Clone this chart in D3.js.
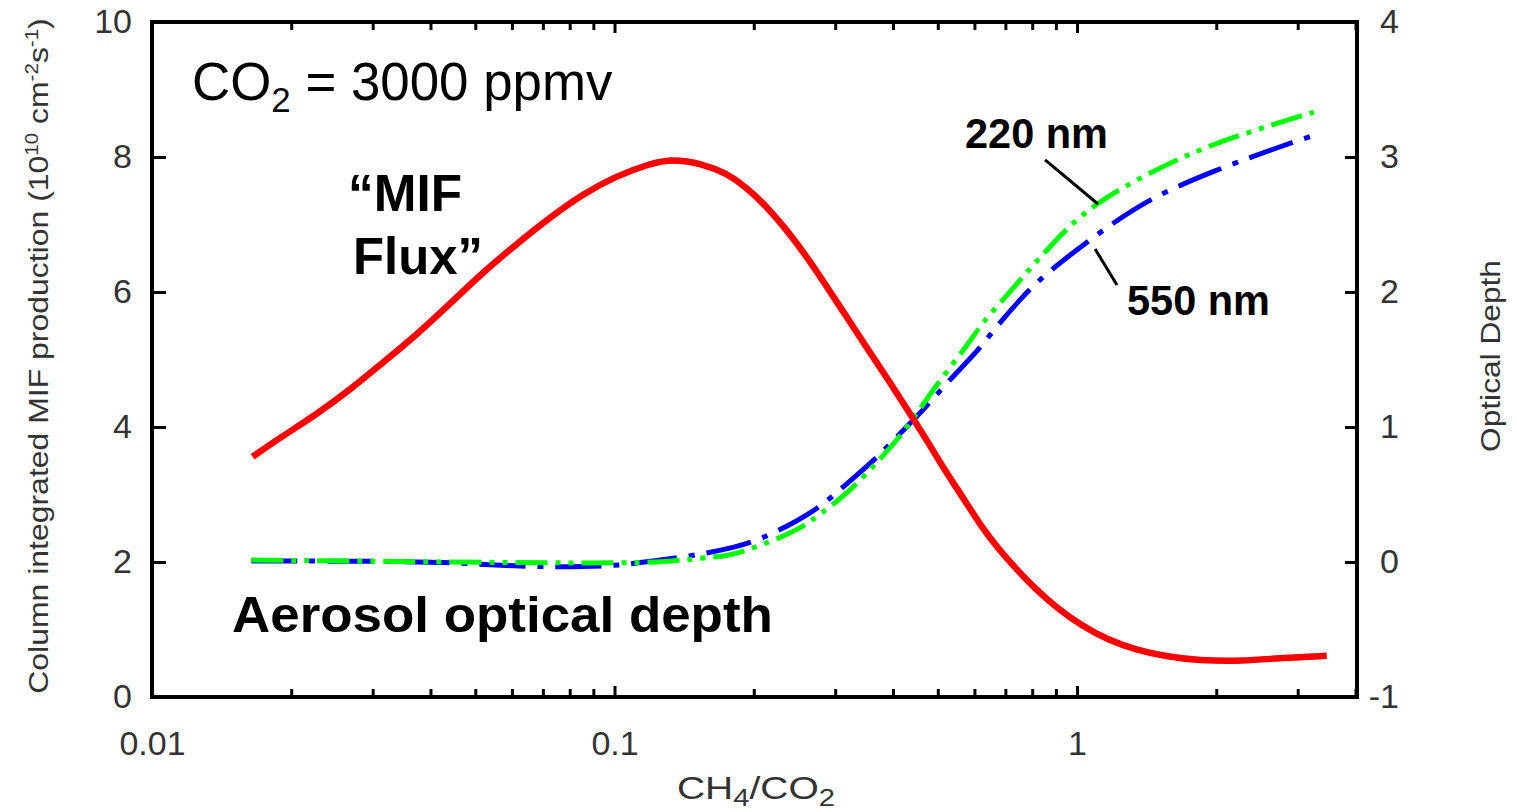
<!DOCTYPE html>
<html>
<head>
<meta charset="UTF-8">
<title>MIF flux and aerosol optical depth</title>
<style>
  html, body { margin: 0; padding: 0; background: #fff; }
  svg { display: block; font-family: "Liberation Sans", Arial, sans-serif; }
</style>
</head>
<body>
<svg width="1517" height="812"></svg>
<script src="https://d3js.org/d3.v7.min.js"></script>
<script>
// values
var ratioMif = [0.0165, 0.0192, 0.0227, 0.0268, 0.0315, 0.0374, 0.0440, 0.0519, 0.0614, 0.0724,
                0.0853, 0.101, 0.119, 0.1335, 0.155, 0.1745, 0.193, 0.213, 0.235, 0.260,
                0.287, 0.317, 0.350, 0.387, 0.427, 0.472, 0.511, 0.576, 0.623, 0.679,
                0.738, 0.816, 0.901, 1.025, 1.172, 1.341, 1.556, 1.834, 2.272, 2.772, 3.467];
var fluxMif = [3.56, 3.87, 4.19, 4.55, 4.95, 5.37, 5.82, 6.29, 6.71, 7.10,
               7.45, 7.72, 7.90, 7.97, 7.90, 7.76, 7.55, 7.27, 6.93, 6.53,
               6.09, 5.64, 5.19, 4.74, 4.29, 3.82, 3.42, 2.88, 2.51, 2.18,
               1.90, 1.59, 1.33, 1.05, 0.84, 0.70, 0.60, 0.54, 0.53, 0.58, 0.61];

var ratio220 = [0.0164, 0.0268, 0.0440, 0.0724, 0.1025, 0.1295, 0.155, 0.1745, 0.189, 0.2306,
                0.2547, 0.2772, 0.3218, 0.3681, 0.4125, 0.4558, 0.511, 0.576, 0.623, 0.713,
                0.776, 0.857, 0.975, 1.116, 1.315, 1.686, 2.162, 3.251];
var depth220 = [0.015, 0.007, 0, -0.007, -0.007, 0, 0.03, 0.044, 0.074, 0.185,
                0.259, 0.348, 0.519, 0.733, 0.919, 1.126, 1.37, 1.593, 1.77, 1.993,
                2.141, 2.304, 2.511, 2.667, 2.815, 3.0, 3.148, 3.333];

var ratio550 = [0.0164, 0.0268, 0.0440, 0.0584, 0.0760, 0.0990, 0.112, 0.1474, 0.1835, 0.2056,
                0.2509, 0.2772, 0.3017, 0.3382, 0.3699, 0.3926, 0.4272, 0.4719, 0.529, 0.605,
                0.6685, 0.761, 0.840, 1.010, 1.155, 1.452, 1.996, 2.731, 3.365];
var depth550 = [0.007, 0.007, 0, -0.03, -0.037, -0.03, -0.007, 0.044, 0.111, 0.163,
                0.311, 0.407, 0.511, 0.659, 0.778, 0.867, 1.0, 1.148, 1.348, 1.548,
                1.741, 1.963, 2.111, 2.326, 2.474, 2.704, 2.904, 3.074, 3.178];

var xTicks = [0.01, 0.1, 1];
var xTickLabels = ["0.01", "0.1", "1"];
var yLeftTicks = [0, 2, 4, 6, 8, 10];
var yRightTicks = [-1, 0, 1, 2, 3, 4];

// leader lines for the two wavelength labels, in (ratio, depth)
var lead220 = [[0.853, 2.978], [1.110, 2.652]];
var lead550 = [[1.094, 2.319], [1.220, 2.052]];

// plot box
var boxL = 152, boxR = 1357, boxT = 22, boxB = 697;

var svg = d3.select("svg");
svg.append("rect").attr("width", 1517).attr("height", 812).attr("fill", "#fff");

var x = d3.scaleLog().domain([0.01, 4.03]).range([boxL, boxR]);
var yL = d3.scaleLinear().domain([0, 10]).range([boxB, boxT]);
var yR = d3.scaleLinear().domain([-1, 4]).range([boxB, boxT]);

var xMinor = x.ticks().filter(function (d) { return xTicks.indexOf(d) < 0 && d <= 4.03; });

function tidy(g) {
  g.select(".domain").remove();
  g.selectAll(".tick line").attr("stroke", "#000").attr("stroke-width", 3);
  g.selectAll(".tick text").attr("fill", "#333").attr("font-size", 34)
    .attr("font-family", "'Liberation Sans', Arial, sans-serif");
}

// x axes (bottom with labels, top without)
svg.append("g").attr("transform", "translate(0," + boxB + ")")
  .call(d3.axisBottom(x).tickValues(xMinor).tickFormat("").tickSize(-8)).call(tidy);
svg.append("g").attr("transform", "translate(0," + boxB + ")")
  .call(d3.axisBottom(x).tickValues(xTicks).tickFormat(function (d, i) { return xTickLabels[i]; })
    .tickSize(-11).tickPadding(34)).call(tidy);
svg.append("g").attr("transform", "translate(0," + boxT + ")")
  .call(d3.axisTop(x).tickValues(xMinor).tickFormat("").tickSize(-8)).call(tidy);
svg.append("g").attr("transform", "translate(0," + boxT + ")")
  .call(d3.axisTop(x).tickValues(xTicks).tickFormat("").tickSize(-11)).call(tidy);

// y axes
svg.append("g").attr("transform", "translate(" + boxL + ",0)")
  .call(d3.axisLeft(yL).tickValues(yLeftTicks).tickSize(-14).tickPadding(20)).call(tidy);
var gr = svg.append("g").attr("transform", "translate(" + boxR + ",0)")
  .call(d3.axisRight(yR).tickValues(yRightTicks).tickFormat(function (d) { return String(d); })
    .tickSize(-12)).call(tidy);
gr.selectAll(".tick text").attr("text-anchor", "end").attr("x", 42);

// curves
var line = function (ys) {
  return d3.line().x(function (d) { return x(d[0]); }).y(function (d) { return ys(d[1]); })
    .curve(d3.curveBasis);
};

svg.append("path").datum(d3.zip(ratio550, depth550))
  .attr("d", line(yR)).attr("fill", "none").attr("stroke", "#0000ff")
  .attr("stroke-width", 5).attr("stroke-dasharray", "46,12,6,12");
svg.append("path").datum(d3.zip(ratio220, depth220))
  .attr("d", line(yR)).attr("fill", "none").attr("stroke", "#00ff00")
  .attr("stroke-width", 5).attr("stroke-dasharray", "32,8,5,8,5,8");
svg.append("path").datum(d3.zip(ratioMif, fluxMif))
  .attr("d", line(yL)).attr("fill", "none").attr("stroke", "#ff0000")
  .attr("stroke-width", 6.5);

// frame
svg.append("rect").attr("x", boxL).attr("y", boxT)
  .attr("width", boxR - boxL).attr("height", boxB - boxT)
  .attr("fill", "none").attr("stroke", "#000").attr("stroke-width", 4);

// leader lines
[lead220, lead550].forEach(function (p) {
  svg.append("line")
    .attr("x1", x(p[0][0])).attr("y1", yR(p[0][1]))
    .attr("x2", x(p[1][0])).attr("y2", yR(p[1][1]))
    .attr("stroke", "#000").attr("stroke-width", 3);
});

// text helper: parts are tspans, width stretches the run to the measured length
function label(px, py, o, parts) {
  var t = svg.append("text")
    .attr("transform", "translate(" + px + "," + py + ")" + (o.rot ? " rotate(-90)" : ""))
    .attr("text-anchor", o.anchor || "start")
    .attr("font-size", o.size)
    .attr("font-weight", o.weight || "normal")
    .attr("fill", o.fill || "#000");
  parts.forEach(function (p) {
    t.append("tspan").attr("dy", p.dy || 0).attr("font-size", p.size || null).text(p.text);
  });
  if (o.width) {
    var k = o.width / t.node().getBBox().width;
    t.attr("transform", t.attr("transform") + " scale(" + k + ",1)");
  }
  return t;
}

label(192, 100, { size: 53, width: 421 },
  [{ text: "CO" }, { text: "2", size: 35, dy: 12 }, { text: " = 3000 ppmv", dy: -12 }]);
label(348, 211, { size: 52, weight: "bold", width: 114 }, [{ text: "\u201CMIF" }]);
label(353, 274, { size: 52, weight: "bold", width: 130 }, [{ text: "Flux\u201D" }]);
label(232, 632, { size: 50, weight: "bold", width: 541 }, [{ text: "Aerosol optical depth" }]);
label(965, 148, { size: 42, weight: "bold", width: 143 }, [{ text: "220 nm" }]);
label(1127, 315, { size: 42, weight: "bold", width: 143 }, [{ text: "550 nm" }]);

// axis titles
label(677, 799, { size: 32, fill: "#333", width: 158 },
  [{ text: "CH" }, { text: "4", size: 24, dy: 7 }, { text: "/CO", dy: -7 }, { text: "2", size: 24, dy: 7 }]);
label(48, 356, { size: 28, fill: "#333", anchor: "middle", rot: true, width: 676 },
  [{ text: "Column integrated MIF production (10" },
   { text: "10", size: 18, dy: -10 }, { text: " cm", dy: 10 },
   { text: "-2", size: 18, dy: -10 }, { text: "s", dy: 10 },
   { text: "-1", size: 18, dy: -10 }, { text: ")", dy: 10 }]);
label(1500, 356, { size: 28, fill: "#333", anchor: "middle", rot: true, width: 192 },
  [{ text: "Optical Depth" }]);
</script>
</body>
</html>
